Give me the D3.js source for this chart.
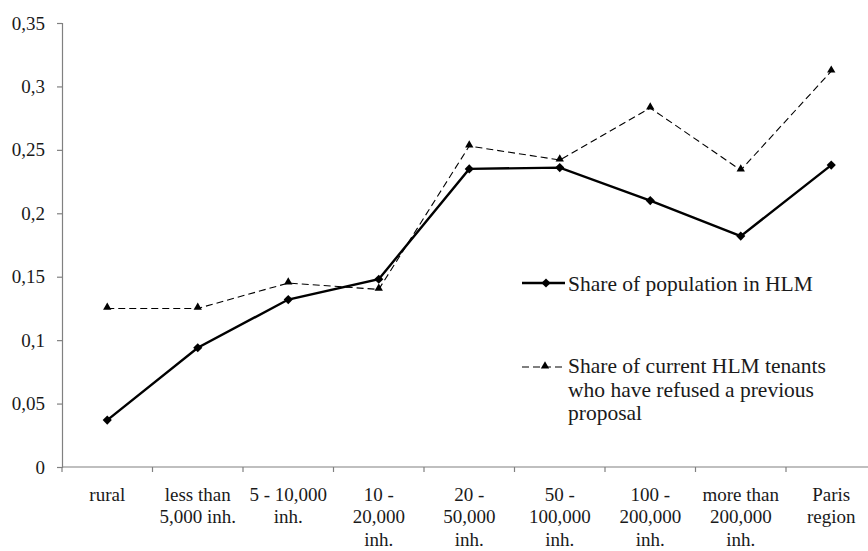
<!DOCTYPE html>
<html><head><meta charset="utf-8">
<script src="https://cdn.jsdelivr.net/npm/d3@7/dist/d3.min.js"></script>
<style>
body{margin:0;background:#fff;}
</style></head>
<body>
<svg id="c" width="868" height="551"></svg>
<script>
const categories = [
  ["rural"],
  ["less than","5,000 inh."],
  ["5 - 10,000","inh."],
  ["10 -","20,000","inh."],
  ["20 -","50,000","inh."],
  ["50 -","100,000","inh."],
  ["100 -","200,000","inh."],
  ["more than","200,000","inh."],
  ["Paris","region"]
];
const populationShare = [0.037, 0.094, 0.132, 0.148, 0.235, 0.236, 0.210, 0.182, 0.238];
const refusedShare    = [0.125, 0.125, 0.145, 0.140, 0.253, 0.242, 0.283, 0.234, 0.312];
const yTicks = [0, 0.05, 0.1, 0.15, 0.2, 0.25, 0.3, 0.35];
const seriesNames = ["Share of population in HLM",
  ["Share of current HLM tenants","who have refused a previous","proposal"]];

const svg = d3.select("#c");
const FS = 19;
const LFS = 21.5;
const FONT = "Liberation Serif";
const TXT = "#1a1a1a";
const x = d3.scaleBand().domain(d3.range(categories.length)).range([62, 876.5]).padding(0);
const y = d3.scaleLinear().domain([0, 0.35]).range([467, 23]);
const axisColor = "#808080";

// y axis
const yAxis = svg.append("g").attr("transform","translate(62,0)")
  .call(d3.axisLeft(y).tickValues(yTicks).tickSize(5).tickPadding(12)
    .tickFormat(d => d === 0 ? "0" : d3.format(".2~f")(d).replace(".", ",")));
yAxis.select(".domain").attr("stroke", axisColor).attr("stroke-width",1.2);
yAxis.selectAll(".tick line").attr("stroke", axisColor).attr("stroke-width",1.2);
yAxis.selectAll("text").style("font-family", FONT).style("font-size", FS + "px").attr("fill", TXT);

// x axis
const xg = svg.append("g").attr("transform","translate(0,467)");
xg.append("line").attr("x1",62).attr("x2",876.5).attr("stroke",axisColor).attr("stroke-width",1.2);
const boundaries = d3.range(categories.length + 1).map(i => i < categories.length ? x(i) : x(categories.length-1) + x.bandwidth());
xg.selectAll("line.tk").data(boundaries).join("line").attr("class","tk")
  .attr("x1", d=>d).attr("x2", d=>d).attr("y1",0).attr("y2",5)
  .attr("stroke",axisColor).attr("stroke-width",1.2);
categories.forEach((lines, i) => {
  const t = xg.append("text").attr("text-anchor","middle")
    .style("font-family", FONT).style("font-size", FS + "px").attr("fill", TXT)
    .attr("transform",`translate(${x(i)+x.bandwidth()/2},0)`);
  lines.forEach((l, j) => t.append("tspan").attr("x",0).attr("y", 34 + j*22.3).text(l));
});

const cx = i => x(i) + x.bandwidth()/2;
const line = d3.line().x((d,i)=>cx(i)).y(d=>y(d));

// dashed series
svg.append("path").datum(refusedShare).attr("d", line).attr("fill","none")
  .attr("stroke","#000").attr("stroke-width",1.1).attr("stroke-dasharray","7,4");
// solid series
svg.append("path").datum(populationShare).attr("d", line).attr("fill","none")
  .attr("stroke","#000").attr("stroke-width",2.4);

const tri = d3.symbol().type(d3.symbolTriangle).size(30);
const dia = d3.symbol().type(d3.symbolSquare).size(42);

svg.selectAll("path.tri").data(refusedShare).join("path").attr("class","tri")
  .attr("d", tri).attr("transform",(d,i)=>`translate(${cx(i)},${y(d)-1})`).attr("fill","#000");
svg.selectAll("path.dia").data(populationShare).join("path").attr("class","dia")
  .attr("d", dia)
  .attr("transform",(d,i)=>`translate(${cx(i)},${y(d)}) rotate(45)`).attr("fill","#000");

// legend
const lg = svg.append("g");
lg.append("line").attr("x1",522).attr("x2",565).attr("y1",283).attr("y2",283).attr("stroke","#000").attr("stroke-width",2.4);
lg.append("path").attr("d", dia).attr("transform","translate(546,283) rotate(45)");
lg.append("text").attr("x",568).attr("y",291).style("font-family", FONT).style("font-size", LFS + "px").attr("fill", TXT).text(seriesNames[0]);

lg.append("line").attr("x1",522).attr("x2",565).attr("y1",367).attr("y2",367).attr("stroke","#000").attr("stroke-width",1.1).attr("stroke-dasharray","7,4");
lg.append("path").attr("d", tri).attr("transform","translate(545,366)");
const t2 = lg.append("text").style("font-family", FONT).style("font-size", LFS + "px").attr("fill", TXT);
seriesNames[1].forEach((l,j)=> t2.append("tspan").attr("x",568).attr("y",373 + j*23.5).text(l));
</script>
</body></html>
